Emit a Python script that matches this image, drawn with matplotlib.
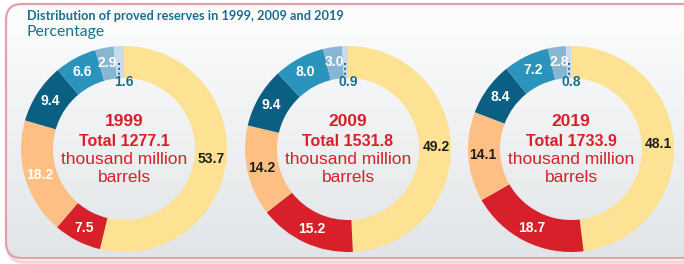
import numpy as np
import matplotlib.pyplot as plt
from matplotlib.patches import FancyBboxPatch
from matplotlib.colors import LinearSegmentedColormap

# data
years = ["1999", "2009", "2019"]
totals = ["1277.1", "1531.8", "1733.9"]
shares_1999 = [53.7, 7.5, 18.2, 9.4, 6.6, 2.9, 1.6]
shares_2009 = [49.2, 15.2, 14.2, 9.4, 8.0, 3.0, 0.9]
shares_2019 = [48.1, 18.7, 14.1, 8.4, 7.2, 2.8, 0.8]
all_shares = [shares_1999, shares_2009, shares_2019]

slice_colors = ['#fde294', '#d8202a', '#fdbf84', '#0b5f83', '#2a94bd', '#86b6d2', '#c6dcea']
dark = '#1e1e1e'
teal = '#1b6e8f'
label_colors = [
    [dark, 'white', 'white', 'white', 'white', 'white', teal],
    [dark, 'white', dark, 'white', 'white', 'white', teal],
    [dark, 'white', dark, 'white', 'white', 'white', teal],
]

W, H = 684, 264
centers_x = [124, 348, 571]
center_y = 149  # pixels from the top
r_out, ring = 103, 32

plt.rcParams['font.family'] = ['Liberation Sans', 'DejaVu Sans']

fig = plt.figure(figsize=(W / 100, H / 100), dpi=100)
ax = fig.add_axes([0, 0, 1, 1])
ax.set_axis_off()

# faint shadow under the panel
shadow = FancyBboxPatch((8, 2), 760, 256, boxstyle='round,pad=0,rounding_size=16',
                        fc='none', ec='#f2d6da', lw=2.5, zorder=1)
ax.add_patch(shadow)
# background panel with soft vertical gradient and pink rounded border
box = FancyBboxPatch((6, 6), 760, 254, boxstyle='round,pad=0,rounding_size=16',
                     fc='none', ec='#e2a0aa', lw=1.6, zorder=3)
ax.add_patch(box)
cmap = LinearSegmentedColormap.from_list('bg', ['#fdfdfd', '#eff1f2', '#e2e5e8'])
grad = np.linspace(0, 1, 256).reshape(-1, 1)
img = ax.imshow(grad, extent=(6, 766, 6, 260), aspect='auto', cmap=cmap,
                origin='upper', zorder=1.5)
img.set_clip_path(box)

ax.text(27, H - 16, "Distribution of proved reserves in 1999, 2009 and 2019",
        fontsize=9.2, fontweight='bold', color=teal, va='center',
        family=['Lato', 'DejaVu Sans'])
ax.text(27, H - 32, "Percentage", fontsize=11.3, color=teal, va='center',
        family=['Lato', 'DejaVu Sans'])

for i, vals in enumerate(all_shares):
    cx, cy = centers_x[i], H - center_y
    ax.pie(vals, radius=r_out, center=(cx, cy), startangle=90, counterclock=False,
           colors=slice_colors, frame=True,
           wedgeprops=dict(width=ring, edgecolor='none', zorder=2))
    cum = np.cumsum(vals) - np.array(vals) / 2
    for j, v in enumerate(vals):
        ang = np.deg2rad(360 * cum[j] / 100)
        if j == len(vals) - 1:
            # tiny slice: dotted leader into the hole
            x0 = cx + (r_out - 18) * np.sin(ang)
            ax.plot([x0, x0], [cy + r_out - 17, cy + r_out - 29], ls=(0, (1, 1.5)),
                    color=teal, lw=1.4, zorder=4)
            ax.text(cx, cy + r_out - 36, f"{v:.1f}", ha='center', va='center',
                    fontsize=10, fontweight='bold', color=teal, zorder=4)
            continue
        rm = r_out - ring / 2 + 1
        ax.text(cx + rm * np.sin(ang), cy + rm * np.cos(ang), f"{v:.1f}",
                ha='center', va='center', fontsize=10, fontweight='bold',
                color=label_colors[i][j], zorder=4)
    red = '#d8202a'
    ax.text(cx, cy + 27, years[i], ha='center', va='center', fontsize=12.5,
            fontweight='bold', color=red)
    ax.text(cx, cy + 8, "Total " + totals[i], ha='center', va='center', fontsize=11.5,
            fontweight='bold', color=red)
    ax.text(cx, cy - 11, "thousand million", ha='center', va='center', fontsize=12.5,
            color=red)
    ax.text(cx, cy - 29, "barrels", ha='center', va='center', fontsize=12.5, color=red)

ax.set_xlim(0, W)
ax.set_ylim(0, H)
ax.set_aspect('auto')

fig.savefig("out.png", dpi=100, facecolor='white')
